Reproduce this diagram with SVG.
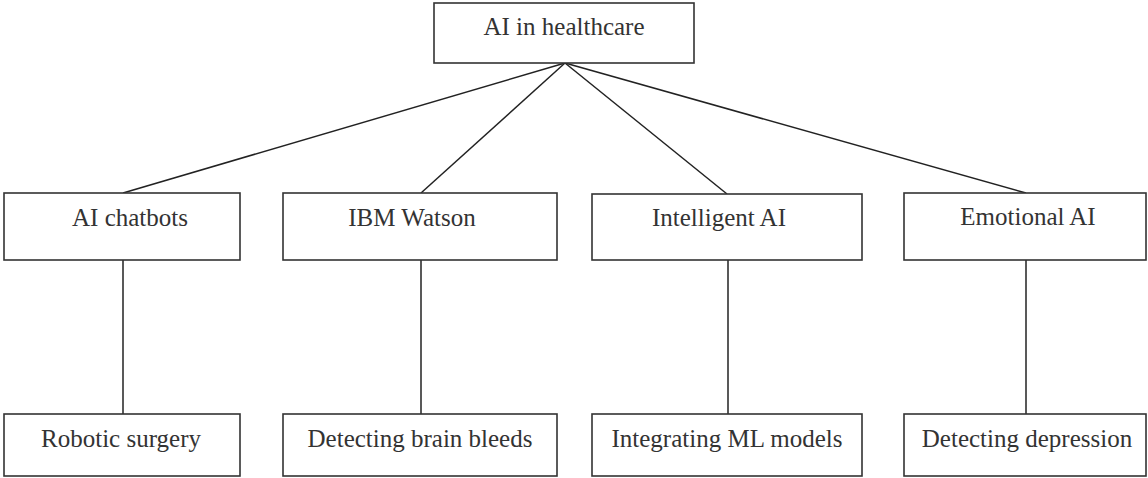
<svg xmlns="http://www.w3.org/2000/svg" width="1148" height="478" viewBox="0 0 1148 478">
<style>
rect{fill:#fff;stroke:#333;stroke-width:1.6}
line{stroke:#222;stroke-width:1.5}
text{font-family:"Liberation Serif","Times New Roman",serif;font-size:25px;fill:#333;text-anchor:middle}
</style>
<rect x="0" y="0" width="1148" height="478" style="stroke:none"/>
<g id="connectors">
<line x1="565" y1="63" x2="123" y2="193"/>
<line x1="565" y1="63" x2="421" y2="193"/>
<line x1="565" y1="63" x2="727" y2="194"/>
<line x1="565" y1="63" x2="1026" y2="193"/>
<line x1="123" y1="260" x2="123" y2="414"/>
<line x1="421" y1="260" x2="421" y2="414"/>
<line x1="728" y1="260" x2="728" y2="414"/>
<line x1="1026" y1="260" x2="1026" y2="414"/>
</g>
<g id="root"><rect x="434" y="3" width="260" height="60"/><text x="564" y="35">AI in healthcare</text></g>
<g id="chatbots"><rect x="4" y="193" width="236" height="67"/><text x="130" y="226">AI chatbots</text></g>
<g id="watson"><rect x="283" y="193" width="274" height="67"/><text x="412" y="226">IBM Watson</text></g>
<g id="intelligent"><rect x="592" y="194" width="270" height="66"/><text x="719" y="226">Intelligent AI</text></g>
<g id="emotional"><rect x="904" y="193" width="242" height="67"/><text x="1028" y="225">Emotional AI</text></g>
<g id="surgery"><rect x="4" y="414" width="236" height="62"/><text x="121" y="447">Robotic surgery</text></g>
<g id="brain"><rect x="283" y="414" width="274" height="62"/><text x="420" y="447">Detecting brain bleeds</text></g>
<g id="ml"><rect x="592" y="414" width="270" height="62"/><text x="727" y="447">Integrating ML models</text></g>
<g id="depression"><rect x="904" y="414" width="242" height="62"/><text x="1027" y="447">Detecting depression</text></g>
</svg>
